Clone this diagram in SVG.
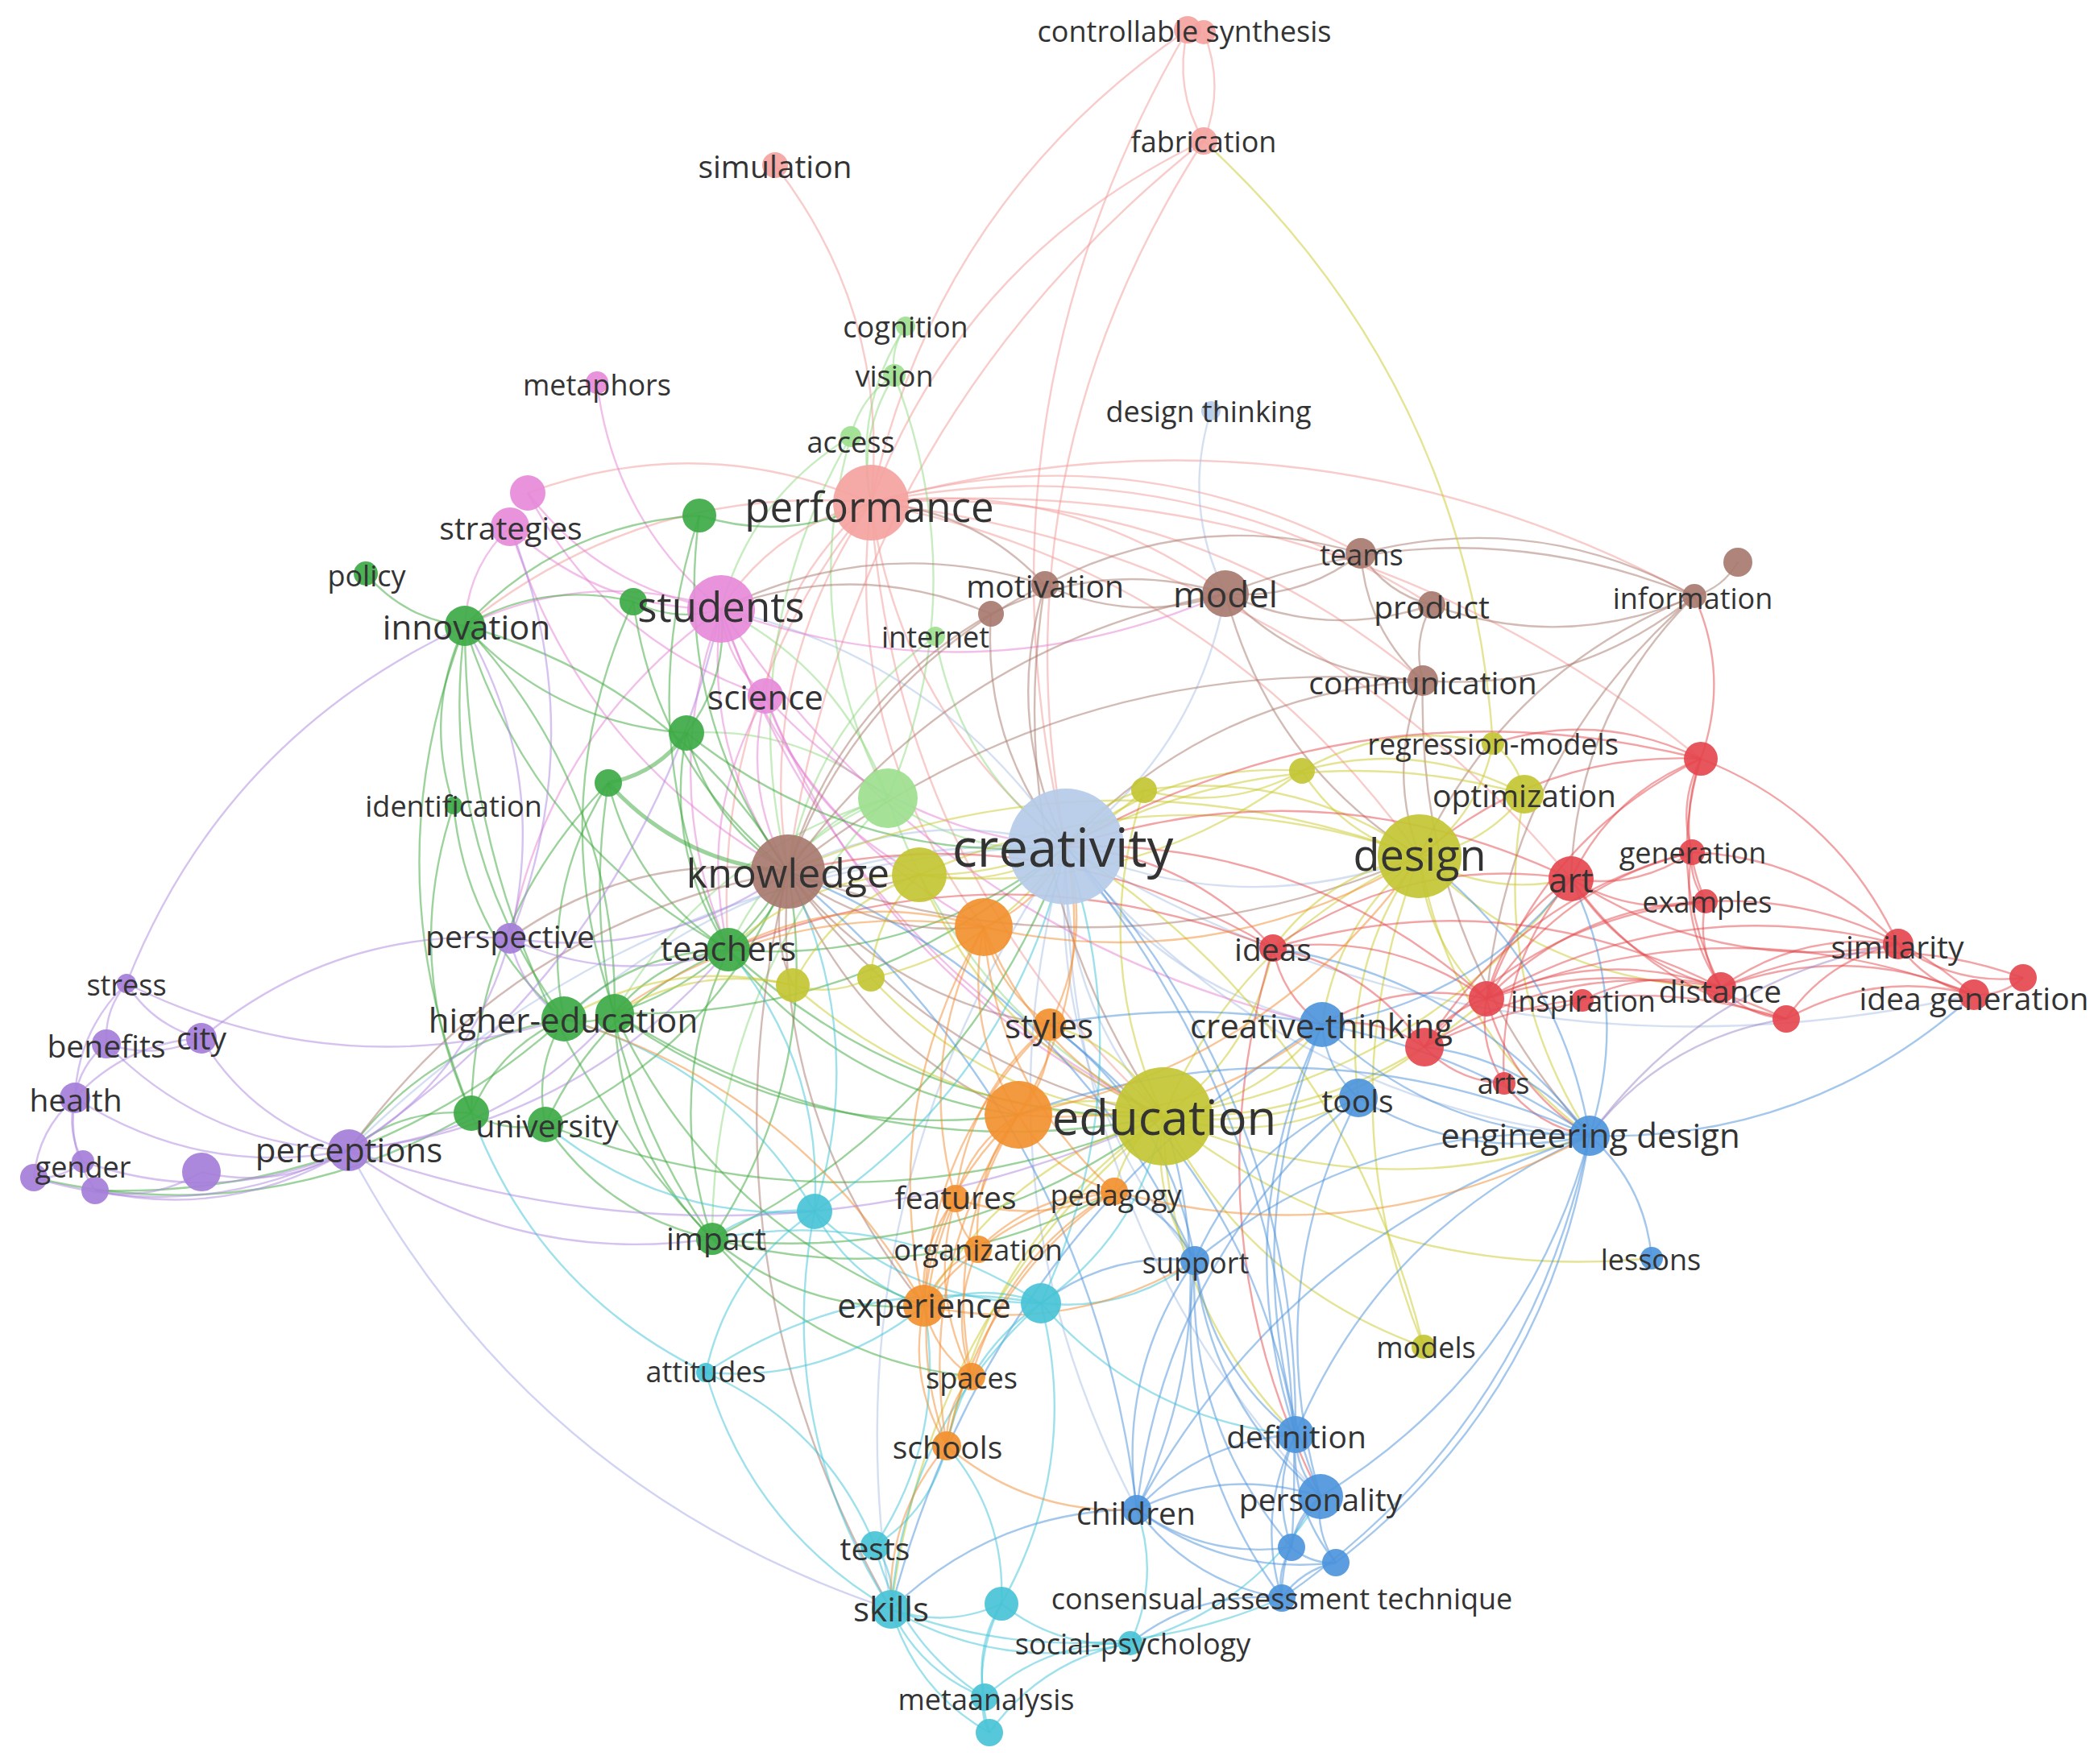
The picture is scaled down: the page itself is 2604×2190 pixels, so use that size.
<svg xmlns="http://www.w3.org/2000/svg" width="2604" height="2190" viewBox="0 0 2604 2190">
<style>
.e{fill:none;stroke-width:2.4;stroke-opacity:0.5}
.th{stroke-width:5}
.s{stroke:#f29a97}.lg{stroke:#8fd97f}.lb{stroke:#a9c1e6}.p{stroke:#e680d4}.g{stroke:#3aa63a}.br{stroke:#a8776b}
.y{stroke:#c9c92a}.r{stroke:#e4474b}.b{stroke:#4a8fd9}.c{stroke:#3ec4d8}.o{stroke:#f28c30}.pu{stroke:#ab86dd}.pb{stroke:#a3a7e6}.bp{stroke:#9a86c6}
text{font-family:"Open Sans","Liberation Sans",sans-serif;fill:#333;text-anchor:middle;dominant-baseline:central}
.t1{font-size:36px}.t2{font-size:39px}.t3{font-size:42px}
.nr{fill:#e5464f}.ns{fill:#f4a3a0}.ng{fill:#3daa45}.nlg{fill:#9de08f}.nb{fill:#4d95dc}.nlb{fill:#b5cbe8}.ny{fill:#c3c634}.npu{fill:#a57ed9}.nc{fill:#48c3d6}.no{fill:#f2902f}.nbr{fill:#a87a6f}.np{fill:#e68ad8}
circle{fill-opacity:0.92}
</style>
<defs>
<path id="c" d="M0,0 Q0.5,0.2 1,0" vector-effect="non-scaling-stroke"/>
</defs>
<g id="connectors">
<g class="e s">
<use href="#c" transform="matrix(-119 -419 419 -119 1081 624)"/>
<use href="#c" transform="matrix(-393 587 -587 -393 1474 37)"/>
<use href="#c" transform="matrix(-413 449 -449 -413 1494 175)"/>
<use href="#c" transform="matrix(-171 876 -876 -171 1494 175)"/>
<use href="#c" transform="matrix(-516 907 -907 -516 1494 175)"/>
<use href="#c" transform="matrix(20 138 -138 20 1474 37)"/>
<use href="#c" transform="matrix(0 -135 135 0 1494 175)"/>
<use href="#c" transform="matrix(-151 1014 -1014 -151 1474 37)"/>
<use href="#c" transform="matrix(-440 -113 113 -440 1521 737)"/>
<use href="#c" transform="matrix(-608 -63 63 -608 1689 687)"/>
<use href="#c" transform="matrix(-696 -127 127 -696 1777 751)"/>
<use href="#c" transform="matrix(-685 -221 221 -685 1766 845)"/>
<use href="#c" transform="matrix(-103 458 -458 -103 1081 624)"/>
<use href="#c" transform="matrix(242 427 -427 242 1081 624)"/>
<use href="#c" transform="matrix(-186 132 -132 -186 1081 624)"/>
<use href="#c" transform="matrix(-177 555 -555 -177 1081 624)"/>
<use href="#c" transform="matrix(363 762 -762 363 1081 624)"/>
<use href="#c" transform="matrix(-131 240 -240 -131 1081 624)"/>
<use href="#c" transform="matrix(140 527 -527 140 1081 624)"/>
<use href="#c" transform="matrix(-426 -12 12 -426 1081 624)"/>
<use href="#c" transform="matrix(-504 153 -153 -504 1081 624)"/>
<use href="#c" transform="matrix(-681 -439 439 -681 1762 1063)"/>
<use href="#c" transform="matrix(-869 -467 467 -869 1950 1091)"/>
<use href="#c" transform="matrix(-1022 -116 116 -1022 2103 740)"/>
<use href="#c" transform="matrix(-1030 -318 318 -1030 2111 942)"/>
</g>
<g class="e lg">
<use href="#c" transform="matrix(-14 61 -61 -14 1124 405)"/>
<use href="#c" transform="matrix(-43 219 -219 -43 1124 405)"/>
<use href="#c" transform="matrix(-29 158 -158 -29 1110 466)"/>
<use href="#c" transform="matrix(-54 76 -76 -54 1110 466)"/>
<use href="#c" transform="matrix(8 -525 525 8 1102 991)"/>
<use href="#c" transform="matrix(-161 214 -214 -161 1056 542)"/>
<use href="#c" transform="matrix(46 449 -449 46 1056 542)"/>
<use href="#c" transform="matrix(-78 540 -540 -78 1056 542)"/>
<use href="#c" transform="matrix(-124 91 -91 -124 1102 991)"/>
<use href="#c" transform="matrix(221 60 -60 221 1102 991)"/>
<use href="#c" transform="matrix(-198 188 -188 -198 1102 991)"/>
<use href="#c" transform="matrix(-339 267 -267 -339 1102 991)"/>
<use href="#c" transform="matrix(342 395 -395 342 1102 991)"/>
<use href="#c" transform="matrix(-250 -81 81 -250 1102 991)"/>
<use href="#c" transform="matrix(-207 -235 235 -207 1102 991)"/>
<use href="#c" transform="matrix(-183 292 -292 -183 1161 790)"/>
<use href="#c" transform="matrix(162 261 -261 162 1161 790)"/>
<use href="#c" transform="matrix(-218 547 -547 -218 1102 991)"/>
</g>
<g class="e lb">
<use href="#c" transform="matrix(18 227 -227 18 1503 510)"/>
<use href="#c" transform="matrix(-345 31 -31 -345 1323 1051)"/>
<use href="#c" transform="matrix(121 335 -335 121 1323 1051)"/>
<use href="#c" transform="matrix(439 12 -12 439 1323 1051)"/>
<use href="#c" transform="matrix(650 359 -359 650 1323 1051)"/>
<use href="#c" transform="matrix(318 221 -221 318 1323 1051)"/>
<use href="#c" transform="matrix(-890 377 -377 -890 1323 1051)"/>
<use href="#c" transform="matrix(316 807 -807 316 1323 1051)"/>
<use href="#c" transform="matrix(160 514 -514 160 1323 1051)"/>
<use href="#c" transform="matrix(-428 -295 295 -428 1323 1051)"/>
<use href="#c" transform="matrix(198 -314 314 198 1323 1051)"/>
<use href="#c" transform="matrix(-217 947 -947 -217 1323 1051)"/>
<use href="#c" transform="matrix(88 823 -823 88 1323 1051)"/>
<use href="#c" transform="matrix(1127 184 -184 1127 1323 1051)"/>
<use href="#c" transform="matrix(-623 214 -214 -623 1323 1051)"/>
</g>
<g class="e p">
<use href="#c" transform="matrix(154 281 -281 154 741 475)"/>
<use href="#c" transform="matrix(240 144 -144 240 655 612)"/>
<use href="#c" transform="matrix(295 252 -252 295 655 612)"/>
<use href="#c" transform="matrix(262 102 -102 262 633 654)"/>
<use href="#c" transform="matrix(345 428 -428 345 633 654)"/>
<use href="#c" transform="matrix(-56 123 -123 -56 633 654)"/>
<use href="#c" transform="matrix(55 108 -108 55 895 756)"/>
<use href="#c" transform="matrix(83 326 -326 83 895 756)"/>
<use href="#c" transform="matrix(9 423 -423 9 895 756)"/>
<use href="#c" transform="matrix(-318 21 -21 -318 895 756)"/>
<use href="#c" transform="matrix(549 630 -630 549 895 756)"/>
<use href="#c" transform="matrix(-262 409 -409 -262 895 756)"/>
<use href="#c" transform="matrix(326 395 -395 326 895 756)"/>
<use href="#c" transform="matrix(28 218 -218 28 950 864)"/>
<use href="#c" transform="matrix(373 187 -187 373 950 864)"/>
<use href="#c" transform="matrix(494 522 -522 494 950 864)"/>
<use href="#c" transform="matrix(191 222 -222 191 950 864)"/>
<use href="#c" transform="matrix(626 -19 19 626 895 756)"/>
<use href="#c" transform="matrix(746 516 -516 746 895 756)"/>
<use href="#c" transform="matrix(-46 315 -315 -46 950 864)"/>
</g>
<g class="e g">
<use href="#c" transform="matrix(123 65 -65 123 454 712)"/>
<use href="#c" transform="matrix(-291 137 -137 -291 868 640)"/>
<use href="#c" transform="matrix(-209 30 -30 -209 786 747)"/>
<use href="#c" transform="matrix(-14 223 -223 -14 577 777)"/>
<use href="#c" transform="matrix(123 488 -488 123 577 777)"/>
<use href="#c" transform="matrix(-186 -481 481 -186 763 1258)"/>
<use href="#c" transform="matrix(8 605 -605 8 577 777)"/>
<use href="#c" transform="matrix(327 402 -402 327 577 777)"/>
<use href="#c" transform="matrix(-401 -305 305 -401 978 1082)"/>
<use href="#c" transform="matrix(275 133 -133 275 577 777)"/>
<use href="#c" transform="matrix(307 761 -761 307 577 777)"/>
<use href="#c" transform="matrix(137 265 -265 137 563 1000)"/>
<use href="#c" transform="matrix(22 382 -382 22 563 1000)"/>
<use class="th" href="#c" transform="matrix(97 -62 62 97 755 972)"/>
<use class="th" href="#c" transform="matrix(223 110 -110 223 755 972)"/>
<use href="#c" transform="matrix(149 207 -207 149 755 972)"/>
<use href="#c" transform="matrix(-55 293 -293 -55 755 972)"/>
<use href="#c" transform="matrix(-170 410 -410 -170 755 972)"/>
<use href="#c" transform="matrix(129 566 -566 129 755 972)"/>
<use href="#c" transform="matrix(126 172 -172 126 852 910)"/>
<use href="#c" transform="matrix(471 141 -141 471 852 910)"/>
<use href="#c" transform="matrix(52 269 -269 52 852 910)"/>
<use href="#c" transform="matrix(43 -154 154 43 852 910)"/>
<use href="#c" transform="matrix(-141 79 -79 -141 904 1179)"/>
<use href="#c" transform="matrix(-204 86 -86 -204 904 1179)"/>
<use href="#c" transform="matrix(74 -97 97 74 904 1179)"/>
<use href="#c" transform="matrix(419 -128 128 419 904 1179)"/>
<use href="#c" transform="matrix(540 207 -207 540 904 1179)"/>
<use href="#c" transform="matrix(-20 359 -359 -20 904 1179)"/>
<use href="#c" transform="matrix(-227 217 -217 -227 904 1179)"/>
<use href="#c" transform="matrix(360 205 -205 360 904 1179)"/>
<use href="#c" transform="matrix(63 -7 7 63 700 1265)"/>
<use href="#c" transform="matrix(-115 117 -117 -115 700 1265)"/>
<use href="#c" transform="matrix(-23 131 -131 -23 700 1265)"/>
<use href="#c" transform="matrix(-267 163 -163 -267 700 1265)"/>
<use href="#c" transform="matrix(215 -176 176 215 763 1258)"/>
<use href="#c" transform="matrix(560 -207 207 560 763 1258)"/>
<use href="#c" transform="matrix(681 128 -128 681 763 1258)"/>
<use href="#c" transform="matrix(121 280 -280 121 763 1258)"/>
<use href="#c" transform="matrix(501 126 -126 501 763 1258)"/>
<use href="#c" transform="matrix(384 363 -363 384 763 1258)"/>
<use href="#c" transform="matrix(92 14 -14 92 585 1382)"/>
<use href="#c" transform="matrix(-152 46 -46 -152 585 1382)"/>
<use href="#c" transform="matrix(207 142 -142 207 677 1396)"/>
<use href="#c" transform="matrix(767 -10 10 767 677 1396)"/>
<use href="#c" transform="matrix(301 -314 314 301 677 1396)"/>
<use href="#c" transform="matrix(94 -456 456 94 884 1538)"/>
<use href="#c" transform="matrix(263 83 -83 263 884 1538)"/>
<use href="#c" transform="matrix(439 -487 487 439 884 1538)"/>
<use href="#c" transform="matrix(560 -152 152 560 884 1538)"/>
<use href="#c" transform="matrix(322 171 -171 322 884 1538)"/>
<use href="#c" transform="matrix(499 -59 59 499 884 1538)"/>
<use href="#c" transform="matrix(109 9 -9 109 786 747)"/>
<use href="#c" transform="matrix(213 -16 16 213 868 640)"/>
<use href="#c" transform="matrix(110 442 -442 110 868 640)"/>
<use href="#c" transform="matrix(36 539 -539 36 868 640)"/>
<use href="#c" transform="matrix(543 -80 80 543 42 1462)"/>
<use href="#c" transform="matrix(192 335 -335 192 786 747)"/>
<use href="#c" transform="matrix(-23 511 -511 -23 786 747)"/>
<use href="#c" transform="matrix(582 -213 213 582 118 1478)"/>
</g>
<g class="e br">
<use href="#c" transform="matrix(224 11 -11 224 1297 726)"/>
<use href="#c" transform="matrix(-319 356 -356 -319 1297 726)"/>
<use href="#c" transform="matrix(26 325 -325 26 1297 726)"/>
<use href="#c" transform="matrix(-216 -102 102 -216 1297 726)"/>
<use href="#c" transform="matrix(-402 30 -30 -402 1297 726)"/>
<use href="#c" transform="matrix(147 660 -660 147 1297 726)"/>
<use href="#c" transform="matrix(168 -50 50 168 1521 737)"/>
<use href="#c" transform="matrix(256 14 -14 256 1521 737)"/>
<use href="#c" transform="matrix(245 108 -108 245 1521 737)"/>
<use href="#c" transform="matrix(-543 345 -345 -543 1521 737)"/>
<use href="#c" transform="matrix(241 326 -326 241 1521 737)"/>
<use href="#c" transform="matrix(-291 25 -25 -291 1521 737)"/>
<use href="#c" transform="matrix(-414 -53 53 -414 2103 740)"/>
<use href="#c" transform="matrix(-582 -3 3 -582 2103 740)"/>
<use href="#c" transform="matrix(88 64 -64 88 1689 687)"/>
<use href="#c" transform="matrix(77 158 -158 77 1689 687)"/>
<use href="#c" transform="matrix(-392 39 -39 -392 1689 687)"/>
<use href="#c" transform="matrix(-11 94 -94 -11 1777 751)"/>
<use href="#c" transform="matrix(326 -11 11 326 1777 751)"/>
<use href="#c" transform="matrix(337 -105 105 337 1766 845)"/>
<use href="#c" transform="matrix(-788 237 -237 -788 1766 845)"/>
<use href="#c" transform="matrix(-443 206 -206 -443 1766 845)"/>
<use href="#c" transform="matrix(-4 218 -218 -4 1766 845)"/>
<use href="#c" transform="matrix(207 565 -565 207 1766 845)"/>
<use href="#c" transform="matrix(54 -42 42 54 2103 740)"/>
<use href="#c" transform="matrix(-153 351 -351 -153 2103 740)"/>
<use href="#c" transform="matrix(-258 500 -500 -258 2103 740)"/>
<use href="#c" transform="matrix(-341 323 -323 -341 2103 740)"/>
<use href="#c" transform="matrix(-252 320 -320 -252 1230 762)"/>
<use href="#c" transform="matrix(93 289 -289 93 1230 762)"/>
<use href="#c" transform="matrix(-335 -6 6 -335 1230 762)"/>
<use href="#c" transform="matrix(163 4 -4 163 978 1082)"/>
<use href="#c" transform="matrix(466 304 -304 466 978 1082)"/>
<use href="#c" transform="matrix(243 69 -69 243 978 1082)"/>
<use href="#c" transform="matrix(286 302 -302 286 978 1082)"/>
<use href="#c" transform="matrix(-345 83 -83 -345 978 1082)"/>
<use href="#c" transform="matrix(-545 346 -346 -545 978 1082)"/>
<use href="#c" transform="matrix(6 141 -141 6 978 1082)"/>
<use href="#c" transform="matrix(784 -19 19 784 978 1082)"/>
<use href="#c" transform="matrix(325 190 -190 325 978 1082)"/>
<use href="#c" transform="matrix(169 539 -539 169 978 1082)"/>
<use href="#c" transform="matrix(128 916 -916 128 978 1082)"/>
</g>
<g class="e y">
<use href="#c" transform="matrix(-359 -748 748 -359 1853 923)"/>
<use href="#c" transform="matrix(130 -77 77 130 1762 1063)"/>
<use href="#c" transform="matrix(91 -140 140 91 1762 1063)"/>
<use href="#c" transform="matrix(-39 -63 63 -39 1892 986)"/>
<use href="#c" transform="matrix(-237 34 -34 -237 1853 923)"/>
<use href="#c" transform="matrix(-276 -29 29 -276 1892 986)"/>
<use href="#c" transform="matrix(-569 65 -65 -569 1892 986)"/>
<use href="#c" transform="matrix(81 424 -424 81 1892 986)"/>
<use href="#c" transform="matrix(-318 323 -323 -318 1762 1063)"/>
<use href="#c" transform="matrix(188 28 -28 188 1762 1063)"/>
<use href="#c" transform="matrix(-182 114 -114 -182 1762 1063)"/>
<use href="#c" transform="matrix(-121 209 -209 -121 1762 1063)"/>
<use href="#c" transform="matrix(211 347 -347 211 1762 1063)"/>
<use href="#c" transform="matrix(-784 19 -19 -784 1762 1063)"/>
<use href="#c" transform="matrix(83 177 -177 83 1762 1063)"/>
<use href="#c" transform="matrix(374 163 -163 374 1762 1063)"/>
<use href="#c" transform="matrix(5 609 -609 5 1762 1063)"/>
<use href="#c" transform="matrix(-342 -82 82 -342 1762 1063)"/>
<use href="#c" transform="matrix(-76 300 -300 -76 1762 1063)"/>
<use href="#c" transform="matrix(-621 23 -23 -621 1762 1063)"/>
<use href="#c" transform="matrix(182 -35 35 182 1141 1086)"/>
<use href="#c" transform="matrix(-157 137 -137 -157 1141 1086)"/>
<use href="#c" transform="matrix(-60 128 -128 -60 1141 1086)"/>
<use href="#c" transform="matrix(303 300 -300 303 1141 1086)"/>
<use href="#c" transform="matrix(279 -105 105 279 1141 1086)"/>
<use href="#c" transform="matrix(475 -129 129 475 1141 1086)"/>
<use href="#c" transform="matrix(-237 93 -93 -237 1141 1086)"/>
<use href="#c" transform="matrix(196 -24 24 196 1420 981)"/>
<use href="#c" transform="matrix(-97 70 -70 -97 1420 981)"/>
<use href="#c" transform="matrix(24 405 -405 24 1420 981)"/>
<use href="#c" transform="matrix(-221 35 -35 -221 984 1223)"/>
<use href="#c" transform="matrix(-284 42 -42 -284 984 1223)"/>
<use href="#c" transform="matrix(97 -9 9 97 984 1223)"/>
<use href="#c" transform="matrix(460 163 -163 460 984 1223)"/>
<use href="#c" transform="matrix(363 172 -172 363 1081 1214)"/>
<use href="#c" transform="matrix(242 -163 163 242 1081 1214)"/>
<use href="#c" transform="matrix(-180 -2 2 -180 1444 1386)"/>
<use href="#c" transform="matrix(-141 -114 114 -141 1444 1386)"/>
<use href="#c" transform="matrix(197 -114 114 197 1444 1386)"/>
<use href="#c" transform="matrix(242 -23 23 242 1444 1386)"/>
<use href="#c" transform="matrix(529 24 -24 529 1444 1386)"/>
<use href="#c" transform="matrix(136 -209 209 136 1444 1386)"/>
<use href="#c" transform="matrix(-61 93 -93 -61 1444 1386)"/>
<use href="#c" transform="matrix(-297 235 -235 -297 1444 1386)"/>
<use href="#c" transform="matrix(39 179 -179 39 1444 1386)"/>
<use href="#c" transform="matrix(164 395 -395 164 1444 1386)"/>
<use href="#c" transform="matrix(323 286 -286 323 1444 1386)"/>
<use href="#c" transform="matrix(606 176 -176 606 1444 1386)"/>
<use href="#c" transform="matrix(-338 612 -612 -338 1444 1386)"/>
<use href="#c" transform="matrix(-269 409 -409 -269 1444 1386)"/>
<use href="#c" transform="matrix(506 -295 295 506 1444 1386)"/>
<use href="#c" transform="matrix(401 -146 146 401 1444 1386)"/>
<use href="#c" transform="matrix(324 -86 86 324 1444 1386)"/>
<use href="#c" transform="matrix(-444 -621 621 -444 1767 1672)"/>
<use href="#c" transform="matrix(-293 94 -94 -293 1616 957)"/>
<use href="#c" transform="matrix(146 106 -106 146 1616 957)"/>
</g>
<g class="e r">
<use href="#c" transform="matrix(-8 -202 202 -8 2111 942)"/>
<use href="#c" transform="matrix(-11 116 -116 -11 2111 942)"/>
<use href="#c" transform="matrix(6 177 -177 6 2111 942)"/>
<use href="#c" transform="matrix(-245 -230 230 -245 2356 1172)"/>
<use href="#c" transform="matrix(-349 121 -121 -349 2111 942)"/>
<use href="#c" transform="matrix(-161 149 -149 -161 2111 942)"/>
<use href="#c" transform="matrix(-266 298 -298 -266 2111 942)"/>
<use href="#c" transform="matrix(25 284 -284 25 2111 942)"/>
<use href="#c" transform="matrix(-258 -19 19 -258 2111 942)"/>
<use href="#c" transform="matrix(150 -33 33 150 1950 1091)"/>
<use href="#c" transform="matrix(167 28 -28 167 1950 1091)"/>
<use href="#c" transform="matrix(186 135 -135 186 1950 1091)"/>
<use href="#c" transform="matrix(406 81 -81 406 1950 1091)"/>
<use href="#c" transform="matrix(-105 149 -149 -105 1950 1091)"/>
<use href="#c" transform="matrix(-83 254 -254 -83 1950 1091)"/>
<use href="#c" transform="matrix(267 174 -174 267 1950 1091)"/>
<use href="#c" transform="matrix(-370 86 -86 -370 1950 1091)"/>
<use href="#c" transform="matrix(-627 -40 40 -627 1950 1091)"/>
<use href="#c" transform="matrix(17 61 -61 17 2100 1058)"/>
<use href="#c" transform="matrix(-256 -114 114 -256 2356 1172)"/>
<use href="#c" transform="matrix(36 168 -168 36 2100 1058)"/>
<use href="#c" transform="matrix(-255 182 -182 -255 2100 1058)"/>
<use href="#c" transform="matrix(-332 242 -242 -332 2100 1058)"/>
<use href="#c" transform="matrix(19 107 -107 19 2117 1119)"/>
<use href="#c" transform="matrix(-333 -116 116 -333 2450 1235)"/>
<use href="#c" transform="matrix(-272 121 -121 -272 2117 1119)"/>
<use href="#c" transform="matrix(-349 181 -181 -349 2117 1119)"/>
<use href="#c" transform="matrix(94 63 -63 94 2356 1172)"/>
<use href="#c" transform="matrix(155 42 -42 155 2356 1172)"/>
<use href="#c" transform="matrix(-220 54 -54 -220 2356 1172)"/>
<use href="#c" transform="matrix(-139 93 -93 -139 2356 1172)"/>
<use href="#c" transform="matrix(-511 68 -68 -511 2356 1172)"/>
<use href="#c" transform="matrix(61 -21 21 61 2450 1235)"/>
<use href="#c" transform="matrix(-314 -9 9 -314 2450 1235)"/>
<use href="#c" transform="matrix(-233 30 -30 -233 2450 1235)"/>
<use href="#c" transform="matrix(-605 5 -5 -605 2450 1235)"/>
<use href="#c" transform="matrix(-375 12 -12 -375 2511 1214)"/>
<use href="#c" transform="matrix(81 39 -39 81 2136 1226)"/>
<use href="#c" transform="matrix(-291 14 -14 -291 2136 1226)"/>
<use href="#c" transform="matrix(-172 16 -16 -172 2136 1226)"/>
<use href="#c" transform="matrix(-368 74 -74 -368 2136 1226)"/>
<use href="#c" transform="matrix(-556 -49 49 -556 2136 1226)"/>
<use href="#c" transform="matrix(-372 -25 25 -372 2217 1265)"/>
<use href="#c" transform="matrix(-449 35 -35 -449 2217 1265)"/>
<use href="#c" transform="matrix(-77 60 -60 -77 1845 1240)"/>
<use href="#c" transform="matrix(119 2 -2 119 1845 1240)"/>
<use href="#c" transform="matrix(-265 -63 63 -265 1845 1240)"/>
<use href="#c" transform="matrix(22 105 -105 22 1845 1240)"/>
<use href="#c" transform="matrix(128 170 -170 128 1845 1240)"/>
<use href="#c" transform="matrix(-204 32 -32 -204 1845 1240)"/>
<use href="#c" transform="matrix(-522 -189 189 -522 1845 1240)"/>
<use href="#c" transform="matrix(-127 -28 28 -127 1768 1300)"/>
<use href="#c" transform="matrix(-188 -123 123 -188 1768 1300)"/>
<use href="#c" transform="matrix(99 45 -45 99 1768 1300)"/>
<use href="#c" transform="matrix(-257 -126 126 -257 1580 1177)"/>
<use href="#c" transform="matrix(61 95 -95 61 1580 1177)"/>
<use href="#c" transform="matrix(-602 -95 95 -602 1580 1177)"/>
<use href="#c" transform="matrix(59 681 -681 59 1580 1177)"/>
<use href="#c" transform="matrix(-676 2 -2 -676 1580 1177)"/>
<use href="#c" transform="matrix(106 65 -65 106 1867 1345)"/>
<use href="#c" transform="matrix(-788 109 -109 -788 2111 942)"/>
</g>
<g class="e bp">
<use href="#c" transform="matrix(-383 238 -238 -383 2356 1172)"/>
<use href="#c" transform="matrix(-244 145 -145 -244 2217 1265)"/>
</g>
<g class="e b">
<use href="#c" transform="matrix(45 91 -91 45 1641 1272)"/>
<use href="#c" transform="matrix(332 138 -138 332 1641 1272)"/>
<use href="#c" transform="matrix(309 -181 181 309 1641 1272)"/>
<use href="#c" transform="matrix(-2 586 -586 -2 1641 1272)"/>
<use href="#c" transform="matrix(-33 509 -509 -33 1641 1272)"/>
<use href="#c" transform="matrix(-535 726 -726 -535 1641 1272)"/>
<use href="#c" transform="matrix(287 47 -47 287 1686 1363)"/>
<use href="#c" transform="matrix(-47 495 -495 -47 1686 1363)"/>
<use href="#c" transform="matrix(-203 202 -202 -203 1686 1363)"/>
<use href="#c" transform="matrix(-275 511 -511 -275 1686 1363)"/>
<use href="#c" transform="matrix(-77 -152 152 -77 2050 1562)"/>
<use href="#c" transform="matrix(334 -448 448 334 1639 1858)"/>
<use href="#c" transform="matrix(382 -574 574 382 1591 1984)"/>
<use href="#c" transform="matrix(315 -530 530 315 1658 1940)"/>
<use href="#c" transform="matrix(-365 371 -371 -365 1973 1410)"/>
<use href="#c" transform="matrix(-562 464 -464 -562 1973 1410)"/>
<use href="#c" transform="matrix(-490 155 -155 -490 1973 1410)"/>
<use href="#c" transform="matrix(-23 -319 319 -23 1973 1410)"/>
<use href="#c" transform="matrix(-211 -347 347 -211 1973 1410)"/>
<use href="#c" transform="matrix(-393 -233 233 -393 1973 1410)"/>
<use href="#c" transform="matrix(-205 -110 110 -205 1973 1410)"/>
<use href="#c" transform="matrix(-709 -26 26 -709 1973 1410)"/>
<use href="#c" transform="matrix(-670 -138 138 -670 1973 1410)"/>
<use href="#c" transform="matrix(477 -175 175 477 1973 1410)"/>
<use href="#c" transform="matrix(125 216 -216 125 1483 1565)"/>
<use href="#c" transform="matrix(156 293 -293 156 1483 1565)"/>
<use href="#c" transform="matrix(-72 309 -309 -72 1483 1565)"/>
<use href="#c" transform="matrix(108 419 -419 108 1483 1565)"/>
<use href="#c" transform="matrix(120 356 -356 120 1483 1565)"/>
<use href="#c" transform="matrix(-191 53 -53 -191 1483 1565)"/>
<use href="#c" transform="matrix(-180 -293 293 -180 1483 1565)"/>
<use href="#c" transform="matrix(-505 -483 483 -505 1483 1565)"/>
<use href="#c" transform="matrix(-100 -86 86 -100 1483 1565)"/>
<use href="#c" transform="matrix(31 77 -77 31 1608 1781)"/>
<use href="#c" transform="matrix(-5 140 -140 -5 1608 1781)"/>
<use href="#c" transform="matrix(50 159 -159 50 1608 1781)"/>
<use href="#c" transform="matrix(-17 203 -203 -17 1608 1781)"/>
<use href="#c" transform="matrix(-197 93 -93 -197 1608 1781)"/>
<use href="#c" transform="matrix(-285 -730 730 -285 1608 1781)"/>
<use href="#c" transform="matrix(-305 -509 509 -305 1608 1781)"/>
<use href="#c" transform="matrix(-36 63 -63 -36 1639 1858)"/>
<use href="#c" transform="matrix(19 82 -82 19 1639 1858)"/>
<use href="#c" transform="matrix(-48 126 -126 -48 1639 1858)"/>
<use href="#c" transform="matrix(-228 16 -16 -228 1639 1858)"/>
<use href="#c" transform="matrix(192 47 -47 192 1411 1874)"/>
<use href="#c" transform="matrix(247 66 -66 247 1411 1874)"/>
<use href="#c" transform="matrix(180 110 -110 180 1411 1874)"/>
<use href="#c" transform="matrix(-305 124 -124 -305 1411 1874)"/>
<use href="#c" transform="matrix(33 -488 488 33 1411 1874)"/>
<use href="#c" transform="matrix(-433 -792 792 -433 1411 1874)"/>
<use href="#c" transform="matrix(55 19 -19 55 1603 1921)"/>
<use href="#c" transform="matrix(-12 63 -63 -12 1603 1921)"/>
<use href="#c" transform="matrix(-67 44 -44 -67 1658 1940)"/>
<use href="#c" transform="matrix(-188 56 -56 -188 1591 1984)"/>
<use href="#c" transform="matrix(-280 -870 870 -280 1603 1921)"/>
</g>
<g class="e c">
<use href="#c" transform="matrix(-20 -79 79 -20 1106 1998)"/>
<use href="#c" transform="matrix(137 -7 7 137 1106 1998)"/>
<use href="#c" transform="matrix(116 109 -109 116 1106 1998)"/>
<use href="#c" transform="matrix(122 153 -153 122 1106 1998)"/>
<use href="#c" transform="matrix(297 42 -42 297 1106 1998)"/>
<use href="#c" transform="matrix(485 -14 14 485 1106 1998)"/>
<use href="#c" transform="matrix(230 294 -294 230 876 1704)"/>
<use href="#c" transform="matrix(291 322 -322 291 585 1382)"/>
<use href="#c" transform="matrix(89 -124 124 89 1086 1919)"/>
<use href="#c" transform="matrix(136 188 -188 136 1086 1919)"/>
<use href="#c" transform="matrix(-210 -215 215 -210 1086 1919)"/>
<use href="#c" transform="matrix(61 -298 298 61 1086 1919)"/>
<use href="#c" transform="matrix(-21 116 -116 -21 1243 1991)"/>
<use href="#c" transform="matrix(160 49 -49 160 1243 1991)"/>
<use href="#c" transform="matrix(-15 160 -160 -15 1243 1991)"/>
<use href="#c" transform="matrix(49 -373 373 49 1243 1991)"/>
<use href="#c" transform="matrix(-68 -196 196 -68 1243 1991)"/>
<use href="#c" transform="matrix(-181 67 -67 -181 1403 2040)"/>
<use href="#c" transform="matrix(-175 111 -111 -175 1403 2040)"/>
<use href="#c" transform="matrix(8 -166 166 8 1403 2040)"/>
<use href="#c" transform="matrix(236 -182 182 236 1403 2040)"/>
<use href="#c" transform="matrix(6 44 -44 6 1222 2107)"/>
<use href="#c" transform="matrix(-127 34 -34 -127 1011 1504)"/>
<use href="#c" transform="matrix(136 117 -117 136 1011 1504)"/>
<use href="#c" transform="matrix(281 114 -114 281 1011 1504)"/>
<use href="#c" transform="matrix(-135 200 -200 -135 1011 1504)"/>
<use href="#c" transform="matrix(95 494 -494 95 1011 1504)"/>
<use href="#c" transform="matrix(-107 -325 325 -107 1011 1504)"/>
<use href="#c" transform="matrix(-33 -422 422 -33 1011 1504)"/>
<use href="#c" transform="matrix(-311 -239 239 -311 1011 1504)"/>
<use href="#c" transform="matrix(312 -453 453 312 1011 1504)"/>
<use href="#c" transform="matrix(-145 3 -3 -145 1292 1618)"/>
<use href="#c" transform="matrix(191 -53 53 191 1292 1618)"/>
<use href="#c" transform="matrix(31 -567 567 31 1292 1618)"/>
<use href="#c" transform="matrix(152 -232 232 152 1292 1618)"/>
<use href="#c" transform="matrix(-186 380 -380 -186 1292 1618)"/>
<use href="#c" transform="matrix(316 163 -163 316 1292 1618)"/>
<use href="#c" transform="matrix(-117 177 -177 -117 1292 1618)"/>
<use href="#c" transform="matrix(-416 86 -86 -416 1292 1618)"/>
<use href="#c" transform="matrix(-408 -80 80 -408 1292 1618)"/>
<use href="#c" transform="matrix(271 -83 83 271 876 1704)"/>
<use href="#c" transform="matrix(334 108 -108 334 677 1396)"/>
</g>
<g class="e pb">
<use href="#c" transform="matrix(673 570 -570 673 433 1428)"/>
</g>
<g class="e o">
<use href="#c" transform="matrix(102 -100 100 102 1221 1151)"/>
<use href="#c" transform="matrix(223 235 -235 223 1221 1151)"/>
<use href="#c" transform="matrix(43 233 -233 43 1221 1151)"/>
<use href="#c" transform="matrix(82 121 -121 82 1221 1151)"/>
<use href="#c" transform="matrix(-317 28 -28 -317 1221 1151)"/>
<use href="#c" transform="matrix(-74 470 -470 -74 1221 1151)"/>
<use href="#c" transform="matrix(-35 337 -337 -35 1221 1151)"/>
<use href="#c" transform="matrix(162 328 -328 162 1221 1151)"/>
<use href="#c" transform="matrix(541 -88 88 541 1221 1151)"/>
<use href="#c" transform="matrix(-458 107 -107 -458 1221 1151)"/>
<use href="#c" transform="matrix(39 -112 112 39 1264 1384)"/>
<use href="#c" transform="matrix(-78 104 -104 -78 1264 1384)"/>
<use href="#c" transform="matrix(119 95 -95 119 1264 1384)"/>
<use href="#c" transform="matrix(-50 167 -167 -50 1264 1384)"/>
<use href="#c" transform="matrix(-117 237 -237 -117 1264 1384)"/>
<use href="#c" transform="matrix(-58 325 -325 -58 1264 1384)"/>
<use href="#c" transform="matrix(-89 411 -411 -89 1264 1384)"/>
<use href="#c" transform="matrix(59 -333 333 59 1264 1384)"/>
<use href="#c" transform="matrix(498 -321 321 498 1264 1384)"/>
<use href="#c" transform="matrix(377 -112 112 377 1264 1384)"/>
<use href="#c" transform="matrix(20 -221 221 20 1303 1272)"/>
<use href="#c" transform="matrix(-117 216 -216 -117 1303 1272)"/>
<use href="#c" transform="matrix(-156 349 -349 -156 1303 1272)"/>
<use href="#c" transform="matrix(28 63 -63 28 1186 1488)"/>
<use href="#c" transform="matrix(-39 133 -133 -39 1186 1488)"/>
<use href="#c" transform="matrix(20 221 -221 20 1186 1488)"/>
<use href="#c" transform="matrix(197 -9 9 197 1186 1488)"/>
<use href="#c" transform="matrix(-11 307 -307 -11 1186 1488)"/>
<use href="#c" transform="matrix(-169 72 -72 -169 1383 1479)"/>
<use href="#c" transform="matrix(-236 142 -142 -236 1383 1479)"/>
<use href="#c" transform="matrix(-177 230 -230 -177 1383 1479)"/>
<use href="#c" transform="matrix(-208 316 -316 -208 1383 1479)"/>
<use href="#c" transform="matrix(-67 70 -70 -67 1214 1551)"/>
<use href="#c" transform="matrix(-8 158 -158 -8 1214 1551)"/>
<use href="#c" transform="matrix(59 88 -88 59 1147 1621)"/>
<use href="#c" transform="matrix(28 174 -174 28 1147 1621)"/>
<use href="#c" transform="matrix(-31 86 -86 -31 1206 1709)"/>
<use href="#c" transform="matrix(236 79 -79 236 1175 1795)"/>
<use href="#c" transform="matrix(-69 203 -203 -69 1175 1795)"/>
<use href="#c" transform="matrix(-447 -356 356 -447 1147 1621)"/>
<use href="#c" transform="matrix(336 -56 56 336 1147 1621)"/>
<use href="#c" transform="matrix(590 -69 69 590 1383 1479)"/>
</g>
<g class="e pu">
<use href="#c" transform="matrix(-25 75 -75 -25 157 1221)"/>
<use href="#c" transform="matrix(-64 142 -142 -64 157 1221)"/>
<use href="#c" transform="matrix(93 68 -68 93 157 1221)"/>
<use href="#c" transform="matrix(543 44 -44 543 157 1221)"/>
<use href="#c" transform="matrix(-420 444 -444 -420 577 777)"/>
<use href="#c" transform="matrix(-39 67 -67 -39 132 1296)"/>
<use href="#c" transform="matrix(301 132 -132 301 132 1296)"/>
<use href="#c" transform="matrix(118 -7 7 118 132 1296)"/>
<use href="#c" transform="matrix(-157 74 -74 -157 250 1289)"/>
<use href="#c" transform="matrix(183 139 -139 183 250 1289)"/>
<use href="#c" transform="matrix(-383 124 -124 -383 633 1165)"/>
<use href="#c" transform="matrix(10 79 -79 10 93 1363)"/>
<use href="#c" transform="matrix(-51 99 -99 -51 93 1363)"/>
<use href="#c" transform="matrix(25 115 -115 25 93 1363)"/>
<use href="#c" transform="matrix(340 65 -65 340 93 1363)"/>
<use href="#c" transform="matrix(391 -34 34 391 42 1462)"/>
<use href="#c" transform="matrix(315 -50 50 315 118 1478)"/>
<use href="#c" transform="matrix(132 -23 23 132 118 1478)"/>
<use href="#c" transform="matrix(61 -20 20 61 42 1462)"/>
<use href="#c" transform="matrix(183 -27 27 183 250 1455)"/>
<use href="#c" transform="matrix(330 -14 14 330 103 1442)"/>
<use href="#c" transform="matrix(200 -263 263 200 433 1428)"/>
<use href="#c" transform="matrix(330 -170 170 330 433 1428)"/>
<use href="#c" transform="matrix(471 -249 249 471 433 1428)"/>
<use href="#c" transform="matrix(1011 -42 42 1011 433 1428)"/>
<use href="#c" transform="matrix(462 -672 672 462 433 1428)"/>
<use href="#c" transform="matrix(451 110 -110 451 433 1428)"/>
<use href="#c" transform="matrix(-56 -388 388 -56 633 1165)"/>
<use href="#c" transform="matrix(345 -83 83 345 633 1165)"/>
<use href="#c" transform="matrix(67 100 -100 67 633 1165)"/>
<use href="#c" transform="matrix(271 14 -14 271 633 1165)"/>
<use href="#c" transform="matrix(0 -511 511 0 633 1165)"/>
</g>
</g>
<g id="nodes">
<g id="n-ur1"><circle class="nr" cx="2111" cy="942" r="21"/></g>
<g id="n-ur2"><circle class="nr" cx="2217" cy="1265" r="17"/></g>
<g id="n-ur3"><circle class="nr" cx="1768" cy="1300" r="24"/></g>
<g id="n-ur4"><circle class="nr" cx="1845" cy="1240" r="22"/></g>
<g id="n-ur5"><circle class="nr" cx="2511" cy="1214" r="17"/></g>
<g id="n-ucs"><circle class="ns" cx="1494" cy="40" r="15"/></g>
<g id="n-ulg"><circle class="nlg" cx="1102" cy="991" r="37"/></g>
<g id="n-uyg"><circle class="ny" cx="1141" cy="1086" r="34"/></g>
<g id="n-uo1"><circle class="no" cx="1221" cy="1151" r="36"/></g>
<g id="n-uo2"><circle class="no" cx="1264" cy="1384" r="42"/></g>
<g id="n-uy1"><circle class="ny" cx="1420" cy="981" r="16"/></g>
<g id="n-uy2"><circle class="ny" cx="1616" cy="957" r="16"/></g>
<g id="n-uy3"><circle class="ny" cx="984" cy="1223" r="21"/></g>
<g id="n-uy4"><circle class="ny" cx="1081" cy="1214" r="17"/></g>
<g id="n-ug1"><circle class="ng" cx="852" cy="910" r="22"/></g>
<g id="n-ug2"><circle class="ng" cx="755" cy="972" r="17"/></g>
<g id="n-ug3"><circle class="ng" cx="868" cy="640" r="21"/></g>
<g id="n-ug4"><circle class="ng" cx="786" cy="747" r="17"/></g>
<g id="n-ug5"><circle class="ng" cx="700" cy="1265" r="28"/></g>
<g id="n-ug6"><circle class="ng" cx="585" cy="1382" r="22"/></g>
<g id="n-ubr1"><circle class="nbr" cx="1230" cy="762" r="16"/></g>
<g id="n-ubr2"><circle class="nbr" cx="2157" cy="698" r="18"/></g>
<g id="n-up1"><circle class="np" cx="655" cy="612" r="22"/></g>
<g id="n-upu1"><circle class="npu" cx="42" cy="1462" r="17"/></g>
<g id="n-upu2"><circle class="npu" cx="118" cy="1478" r="17"/></g>
<g id="n-upu3"><circle class="npu" cx="250" cy="1455" r="24"/></g>
<g id="n-uc1"><circle class="nc" cx="1011" cy="1504" r="22"/></g>
<g id="n-uc2"><circle class="nc" cx="1292" cy="1618" r="25"/></g>
<g id="n-uc3"><circle class="nc" cx="1243" cy="1991" r="21"/></g>
<g id="n-uc4"><circle class="nc" cx="1228" cy="2151" r="17"/></g>
<g id="n-ub1"><circle class="nb" cx="1603" cy="1921" r="17"/></g>
<g id="n-ub2"><circle class="nb" cx="1658" cy="1940" r="17"/></g>

<g id="n-creativity"><circle class="nlb" cx="1323" cy="1051" r="72"/><text x="1319" y="1051" style="font-size:65px">creativity</text></g>
<g id="n-education"><circle class="ny" cx="1444" cy="1386" r="61"/><text x="1445" y="1386" style="font-size:60px">education</text></g>
<g id="n-design"><circle class="ny" cx="1762" cy="1063" r="52"/><text x="1762" y="1060" style="font-size:54px">design</text></g>
<g id="n-knowledge"><circle class="nbr" cx="978" cy="1082" r="46"/><text x="978" y="1083" style="font-size:50px">knowledge</text></g>
<g id="n-performance"><circle class="ns" cx="1081" cy="624" r="47"/><text x="1079" y="628" style="font-size:51px">performance</text></g>
<g id="n-students"><circle class="np" cx="895" cy="756" r="42"/><text x="895" y="752" style="font-size:51px">students</text></g>
<g id="n-model"><circle class="nbr" cx="1521" cy="737" r="29"/><text x="1521" y="737" style="font-size:44px">model</text></g>
<g id="n-controllable-synthesis"><circle class="ns" cx="1474" cy="37" r="17"/><text class="t1" x="1470" y="38">controllable synthesis</text></g>
<g id="n-fabrication"><circle class="ns" cx="1494" cy="175" r="17"/><text class="t1" x="1494" y="175">fabrication</text></g>
<g id="n-simulation"><circle class="ns" cx="962" cy="205" r="16"/><text class="t2" x="962" y="205">simulation</text></g>
<g id="n-cognition"><circle class="nlg" cx="1124" cy="405" r="12"/><text class="t1" x="1124" y="405">cognition</text></g>
<g id="n-vision"><circle class="nlg" cx="1110" cy="466" r="14"/><text class="t1" x="1110" y="466">vision</text></g>
<g id="n-access"><circle class="nlg" cx="1056" cy="542" r="13"/><text class="t1" x="1056" y="548">access</text></g>
<g id="n-design-thinking"><circle class="nlb" cx="1503" cy="510" r="12"/><text class="t1" x="1500" y="510">design thinking</text></g>
<g id="n-metaphors"><circle class="np" cx="741" cy="475" r="14"/><text class="t1" x="741" y="477">metaphors</text></g>
<g id="n-strategies"><circle class="np" cx="633" cy="654" r="24"/><text class="t2" x="634" y="654">strategies</text></g>
<g id="n-policy"><circle class="ng" cx="454" cy="712" r="15"/><text class="t1" x="455" y="714">policy</text></g>
<g id="n-innovation"><circle class="ng" cx="577" cy="777" r="25"/><text class="t3" x="579" y="777">innovation</text></g>
<g id="n-motivation"><circle class="nbr" cx="1297" cy="726" r="17"/><text class="t2" x="1297" y="726">motivation</text></g>
<g id="n-teams"><circle class="nbr" cx="1689" cy="687" r="19"/><text class="t1" x="1690" y="688">teams</text></g>
<g id="n-product"><circle class="nbr" cx="1777" cy="751" r="17"/><text class="t2" x="1777" y="752">product</text></g>
<g id="n-information"><circle class="nbr" cx="2103" cy="740" r="15"/><text class="t1" x="2101" y="742">information</text></g>
<g id="n-internet"><circle class="nlg" cx="1161" cy="790" r="12"/><text class="t1" x="1161" y="790">internet</text></g>
<g id="n-science"><circle class="np" cx="950" cy="864" r="22"/><text class="t3" x="950" y="864">science</text></g>
<g id="n-communication"><circle class="nbr" cx="1766" cy="845" r="19"/><text class="t2" x="1766" y="846">communication</text></g>
<g id="n-regression-models"><circle class="ny" cx="1853" cy="923" r="14"/><text class="t1" x="1853" y="923">regression-models</text></g>
<g id="n-optimization"><circle class="ny" cx="1892" cy="986" r="24"/><text class="t2" x="1892" y="986">optimization</text></g>
<g id="n-identification"><circle class="ng" cx="563" cy="1000" r="11"/><text class="t1" x="563" y="1000">identification</text></g>
<g id="n-art"><circle class="nr" cx="1950" cy="1091" r="28"/><text class="t3" x="1950" y="1091">art</text></g>
<g id="n-generation"><circle class="nr" cx="2100" cy="1058" r="16"/><text class="t1" x="2101" y="1058">generation</text></g>
<g id="n-examples"><circle class="nr" cx="2117" cy="1119" r="15"/><text class="t1" x="2119" y="1119">examples</text></g>
<g id="n-similarity"><circle class="nr" cx="2356" cy="1172" r="19"/><text class="t2" x="2355" y="1174">similarity</text></g>
<g id="n-idea-generation"><circle class="nr" cx="2450" cy="1235" r="19"/><text class="t2" x="2450" y="1238">idea generation</text></g>
<g id="n-distance"><circle class="nr" cx="2136" cy="1226" r="19"/><text class="t2" x="2135" y="1229">distance</text></g>
<g id="n-inspiration"><circle class="nr" cx="1964" cy="1242" r="14"/><text class="t1" x="1965" y="1242">inspiration</text></g>
<g id="n-ideas"><circle class="nr" cx="1580" cy="1177" r="17"/><text class="t2" x="1580" y="1177">ideas</text></g>
<g id="n-arts"><circle class="nr" cx="1867" cy="1345" r="14"/><text class="t1" x="1866" y="1344">arts</text></g>
<g id="n-teachers"><circle class="ng" cx="904" cy="1179" r="27"/><text class="t3" x="904" y="1176">teachers</text></g>
<g id="n-styles"><circle class="no" cx="1303" cy="1272" r="20"/><text class="t3" x="1302" y="1272">styles</text></g>
<g id="n-creative-thinking"><circle class="nb" cx="1641" cy="1272" r="28"/><text class="t3" x="1640" y="1272">creative-thinking</text></g>
<g id="n-tools"><circle class="nb" cx="1686" cy="1363" r="24"/><text class="t2" x="1685" y="1365">tools</text></g>
<g id="n-engineering-design"><circle class="nb" cx="1973" cy="1410" r="25"/><text class="t3" x="1974" y="1408">engineering design</text></g>
<g id="n-stress"><circle class="npu" cx="157" cy="1221" r="12"/><text class="t1" x="157" y="1222">stress</text></g>
<g id="n-benefits"><circle class="npu" cx="132" cy="1296" r="18"/><text class="t2" x="132" y="1297">benefits</text></g>
<g id="n-city"><circle class="npu" cx="250" cy="1289" r="19"/><text class="t2" x="250" y="1287">city</text></g>
<g id="n-health"><circle class="npu" cx="93" cy="1363" r="19"/><text class="t2" x="94" y="1364">health</text></g>
<g id="n-gender"><circle class="npu" cx="103" cy="1442" r="14"/><text class="t1" x="103" y="1448">gender</text></g>
<g id="n-perceptions"><circle class="npu" cx="433" cy="1428" r="26"/><text class="t3" x="433" y="1426">perceptions</text></g>
<g id="n-perspective"><circle class="npu" cx="633" cy="1165" r="19"/><text class="t2" x="633" y="1161">perspective</text></g>
<g id="n-higher-education"><circle class="ng" cx="763" cy="1258" r="24"/><text class="t3" x="699" y="1265">higher-education</text></g>
<g id="n-university"><circle class="ng" cx="677" cy="1396" r="22"/><text class="t2" x="679" y="1396">university</text></g>
<g id="n-features"><circle class="no" cx="1186" cy="1488" r="17"/><text class="t2" x="1186" y="1485">features</text></g>
<g id="n-pedagogy"><circle class="no" cx="1383" cy="1479" r="17"/><text class="t1" x="1385" y="1483">pedagogy</text></g>
<g id="n-impact"><circle class="ng" cx="884" cy="1538" r="20"/><text class="t2" x="889" y="1536">impact</text></g>
<g id="n-organization"><circle class="no" cx="1214" cy="1551" r="17"/><text class="t1" x="1214" y="1551">organization</text></g>
<g id="n-support"><circle class="nb" cx="1483" cy="1565" r="18"/><text class="t1" x="1484" y="1567">support</text></g>
<g id="n-experience"><circle class="no" cx="1147" cy="1621" r="26"/><text class="t3" x="1147" y="1619">experience</text></g>
<g id="n-attitudes"><circle class="nc" cx="876" cy="1704" r="12"/><text class="t1" x="876" y="1702">attitudes</text></g>
<g id="n-models"><circle class="ny" cx="1767" cy="1672" r="15"/><text class="t1" x="1770" y="1672">models</text></g>
<g id="n-lessons"><circle class="nb" cx="2050" cy="1562" r="14"/><text class="t1" x="2049" y="1563">lessons</text></g>
<g id="n-spaces"><circle class="no" cx="1206" cy="1709" r="17"/><text class="t1" x="1206" y="1710">spaces</text></g>
<g id="n-definition"><circle class="nb" cx="1608" cy="1781" r="23"/><text class="t2" x="1609" y="1782">definition</text></g>
<g id="n-schools"><circle class="no" cx="1175" cy="1795" r="18"/><text class="t2" x="1176" y="1795">schools</text></g>
<g id="n-children"><circle class="nb" cx="1411" cy="1874" r="18"/><text class="t2" x="1410" y="1877">children</text></g>
<g id="n-personality"><circle class="nb" cx="1639" cy="1858" r="28"/><text class="t2" x="1639" y="1860">personality</text></g>
<g id="n-tests"><circle class="nc" cx="1086" cy="1919" r="18"/><text class="t2" x="1086" y="1921">tests</text></g>
<g id="n-skills"><circle class="nc" cx="1106" cy="1998" r="24"/><text class="t3" x="1106" y="1996">skills</text></g>
<g id="n-consensual-assessment-technique"><circle class="nb" cx="1591" cy="1984" r="17"/><text class="t1" x="1591" y="1984">consensual assessment technique</text></g>
<g id="n-social-psychology"><circle class="nc" cx="1403" cy="2040" r="15"/><text class="t1" x="1406" y="2040">social-psychology</text></g>
<g id="n-metaanalysis"><circle class="nc" cx="1222" cy="2107" r="17"/><text class="t1" x="1224" y="2109">metaanalysis</text></g>
</g>
</svg>
